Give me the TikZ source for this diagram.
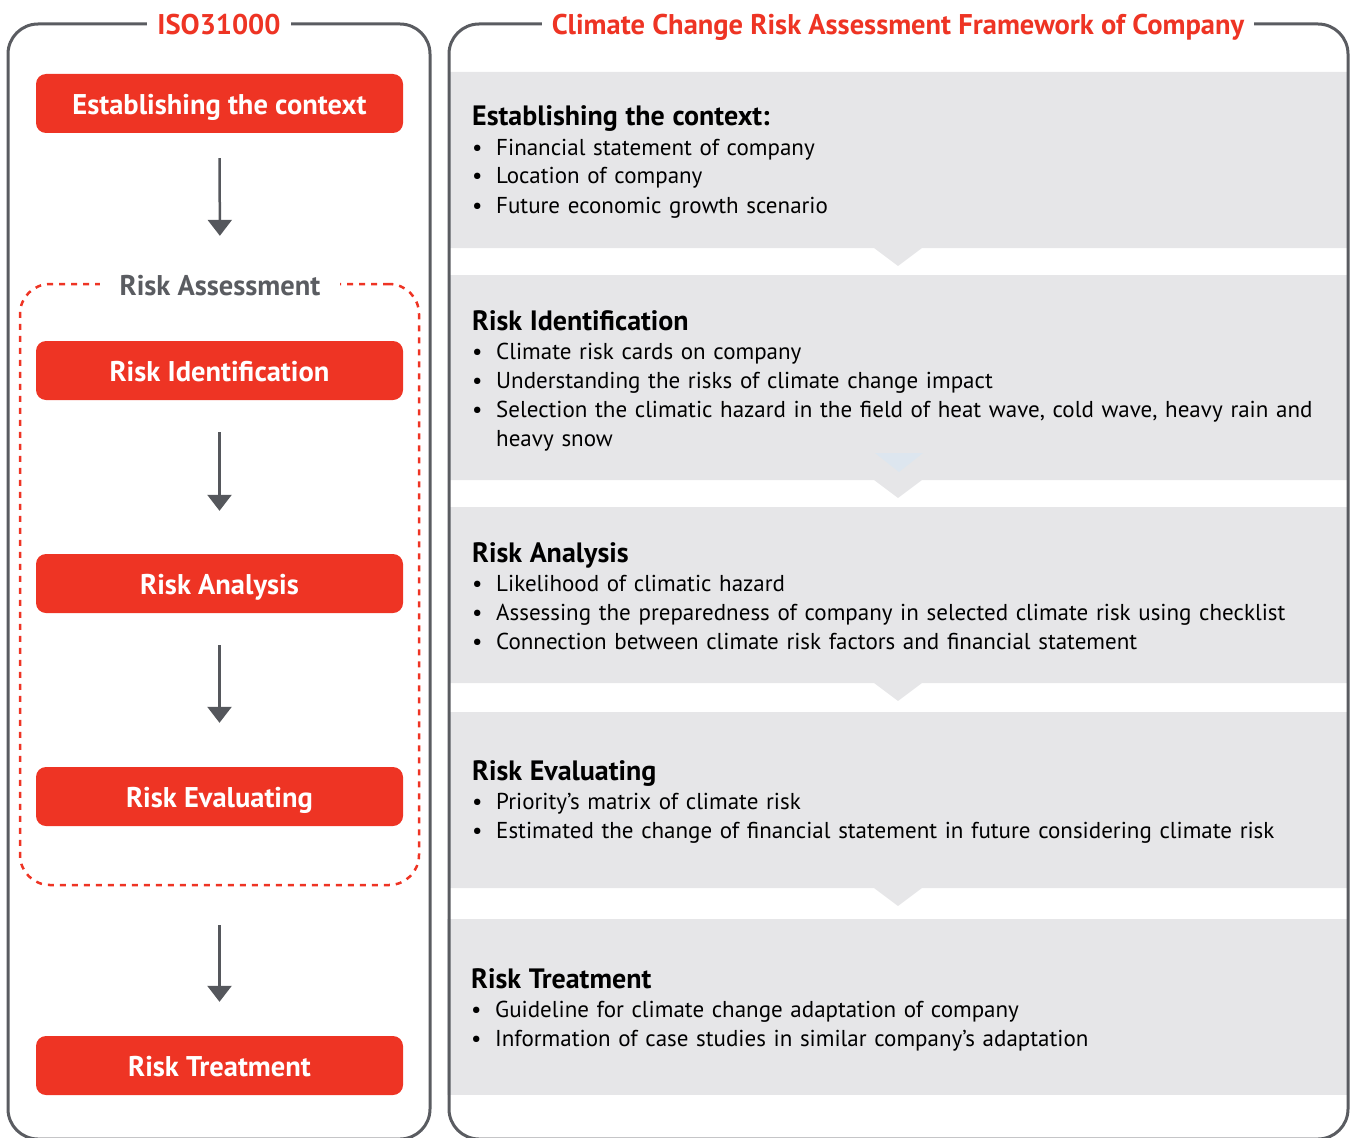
\documentclass[tikz,border=0pt]{standalone}
\usepackage{fontspec}
\setmainfont{PT Sans}
\usetikzlibrary{arrows.meta}
\definecolor{isored}{HTML}{EE3424}
\definecolor{framegray}{HTML}{5A5C61}
\definecolor{panelgray}{HTML}{E6E6E8}
\definecolor{arrowgray}{HTML}{55575C}
\definecolor{notchblue}{HTML}{DDE6EF}
\newcommand{\pitem}{\par\hangindent=24pt\hangafter=1\noindent\makebox[24pt][l]{\textbullet}}
\newcommand{\ptitle}[1]{{\fontsize{28}{34}\selectfont\bfseries\strut #1}\par\fontsize{23}{29}\selectfont}
\begin{document}
\begin{tikzpicture}
[x=1pt, y=-1pt,
 redbox/.style={fill=isored, rounded corners=10pt, minimum width=367pt, minimum height=59pt, text=white, text height=22pt, text depth=0pt, font=\fontsize{28.5}{34}\selectfont\bfseries},
 flowarrow/.style={draw=arrowgray, line width=2.5pt, -{Triangle[width=24pt,length=16pt]}},
 headtitle/.style={fill=white, text=isored, text height=22pt, text depth=0pt, inner xsep=10pt, inner ysep=0pt, font=\fontsize{28.5}{34}\selectfont\bfseries},
 paneltext/.style={anchor=north west, text width=870pt, align=left, inner sep=0pt, font=\fontsize{23}{29}\selectfont}]
\useasboundingbox (0,0) rectangle (1351,1137);
% grey panels on the right
\fill[panelgray] (450,72) -- (1347,72) -- (1347,248) -- (922,248) -- (898,266) -- (874,248) -- (450,248) -- cycle;
\fill[panelgray] (450,275) -- (1347,275) -- (1347,480) -- (922,480) -- (898,498) -- (874,480) -- (450,480) -- cycle;
\fill[notchblue] (875,453) -- (923,453) -- (899,472) -- cycle;
\fill[panelgray] (450,507) -- (1347,507) -- (1347,683) -- (922,683) -- (898,701) -- (874,683) -- (450,683) -- cycle;
\fill[panelgray] (450,712) -- (1347,712) -- (1347,888) -- (922,888) -- (898,906) -- (874,888) -- (450,888) -- cycle;
\fill[panelgray] (447,919) rectangle (1347,1095);
% outer frames
\draw[framegray, line width=3pt, rounded corners=30pt] (8,24) rectangle (430,1139);
\draw[framegray, line width=3pt, rounded corners=30pt] (449,24) rectangle (1348,1139);
\node[headtitle] (isotitle) at (219,24) {ISO31000};
\node[headtitle] (cctitle) at (898,24) {Climate Change Risk Assessment Framework of Company};
% left column
\node[draw=isored, dash pattern=on 6pt off 6pt, line width=2.5pt, rounded corners=30pt, minimum width=399pt, minimum height=601pt] (assess) at (219.5,584.5) {};
\node[fill=white, text=framegray, text height=22pt, text depth=0pt, inner xsep=20pt, inner ysep=0pt, font=\fontsize{28.5}{34}\selectfont\bfseries] (riskass) at (220,284) {Risk Assessment};
\node[redbox] (estab) at (219.5,103.5) {Establishing the context};
\node[redbox] (ident) at (219.5,370.5) {Risk Identification};
\node[redbox] (analy) at (219.5,583.5) {Risk Analysis};
\node[redbox] (evalu) at (219.5,796.5) {Risk Evaluating};
\node[redbox] (treat) at (219.5,1065.5) {Risk Treatment};
\draw[flowarrow, shorten <=25pt, shorten >=37pt] (estab.south) -- (riskass.north);
\draw[flowarrow, shorten <=32pt, shorten >=43pt] (ident.south) -- (analy.north);
\draw[flowarrow, shorten <=32pt, shorten >=44pt] (analy.south) -- (evalu.north);
\draw[flowarrow, shorten <=39pt, shorten >=34pt] (assess.south) -- (treat.north);
% right column texts
\node[paneltext] (ctxtext) at (472,102) {\ptitle{Establishing the context:}
\pitem Financial statement of company
\pitem Location of company
\pitem Future economic growth scenario\par};
\node[paneltext] (identtext) at (472,306) {\ptitle{Risk Identification}
\pitem Climate risk cards on company
\pitem Understanding the risks of climate change impact
\pitem Selection the climatic hazard in the field of heat wave, cold wave, heavy rain and\newline heavy snow\par};
\node[paneltext] (analytext) at (472,538) {\ptitle{Risk Analysis}
\pitem Likelihood of climatic hazard
\pitem Assessing the preparedness of company in selected climate risk using checklist
\pitem Connection between climate risk factors and financial statement\par};
\node[paneltext] (evalutext) at (472,756) {\ptitle{Risk Evaluating}
\pitem Priority’s matrix of climate risk
\pitem Estimated the change of financial statement in future considering climate risk\par};
\node[paneltext] (treattext) at (471,964) {\ptitle{Risk Treatment}
\pitem Guideline for climate change adaptation of company
\pitem Information of case studies in similar company’s adaptation\par};
\end{tikzpicture}
\end{document}
